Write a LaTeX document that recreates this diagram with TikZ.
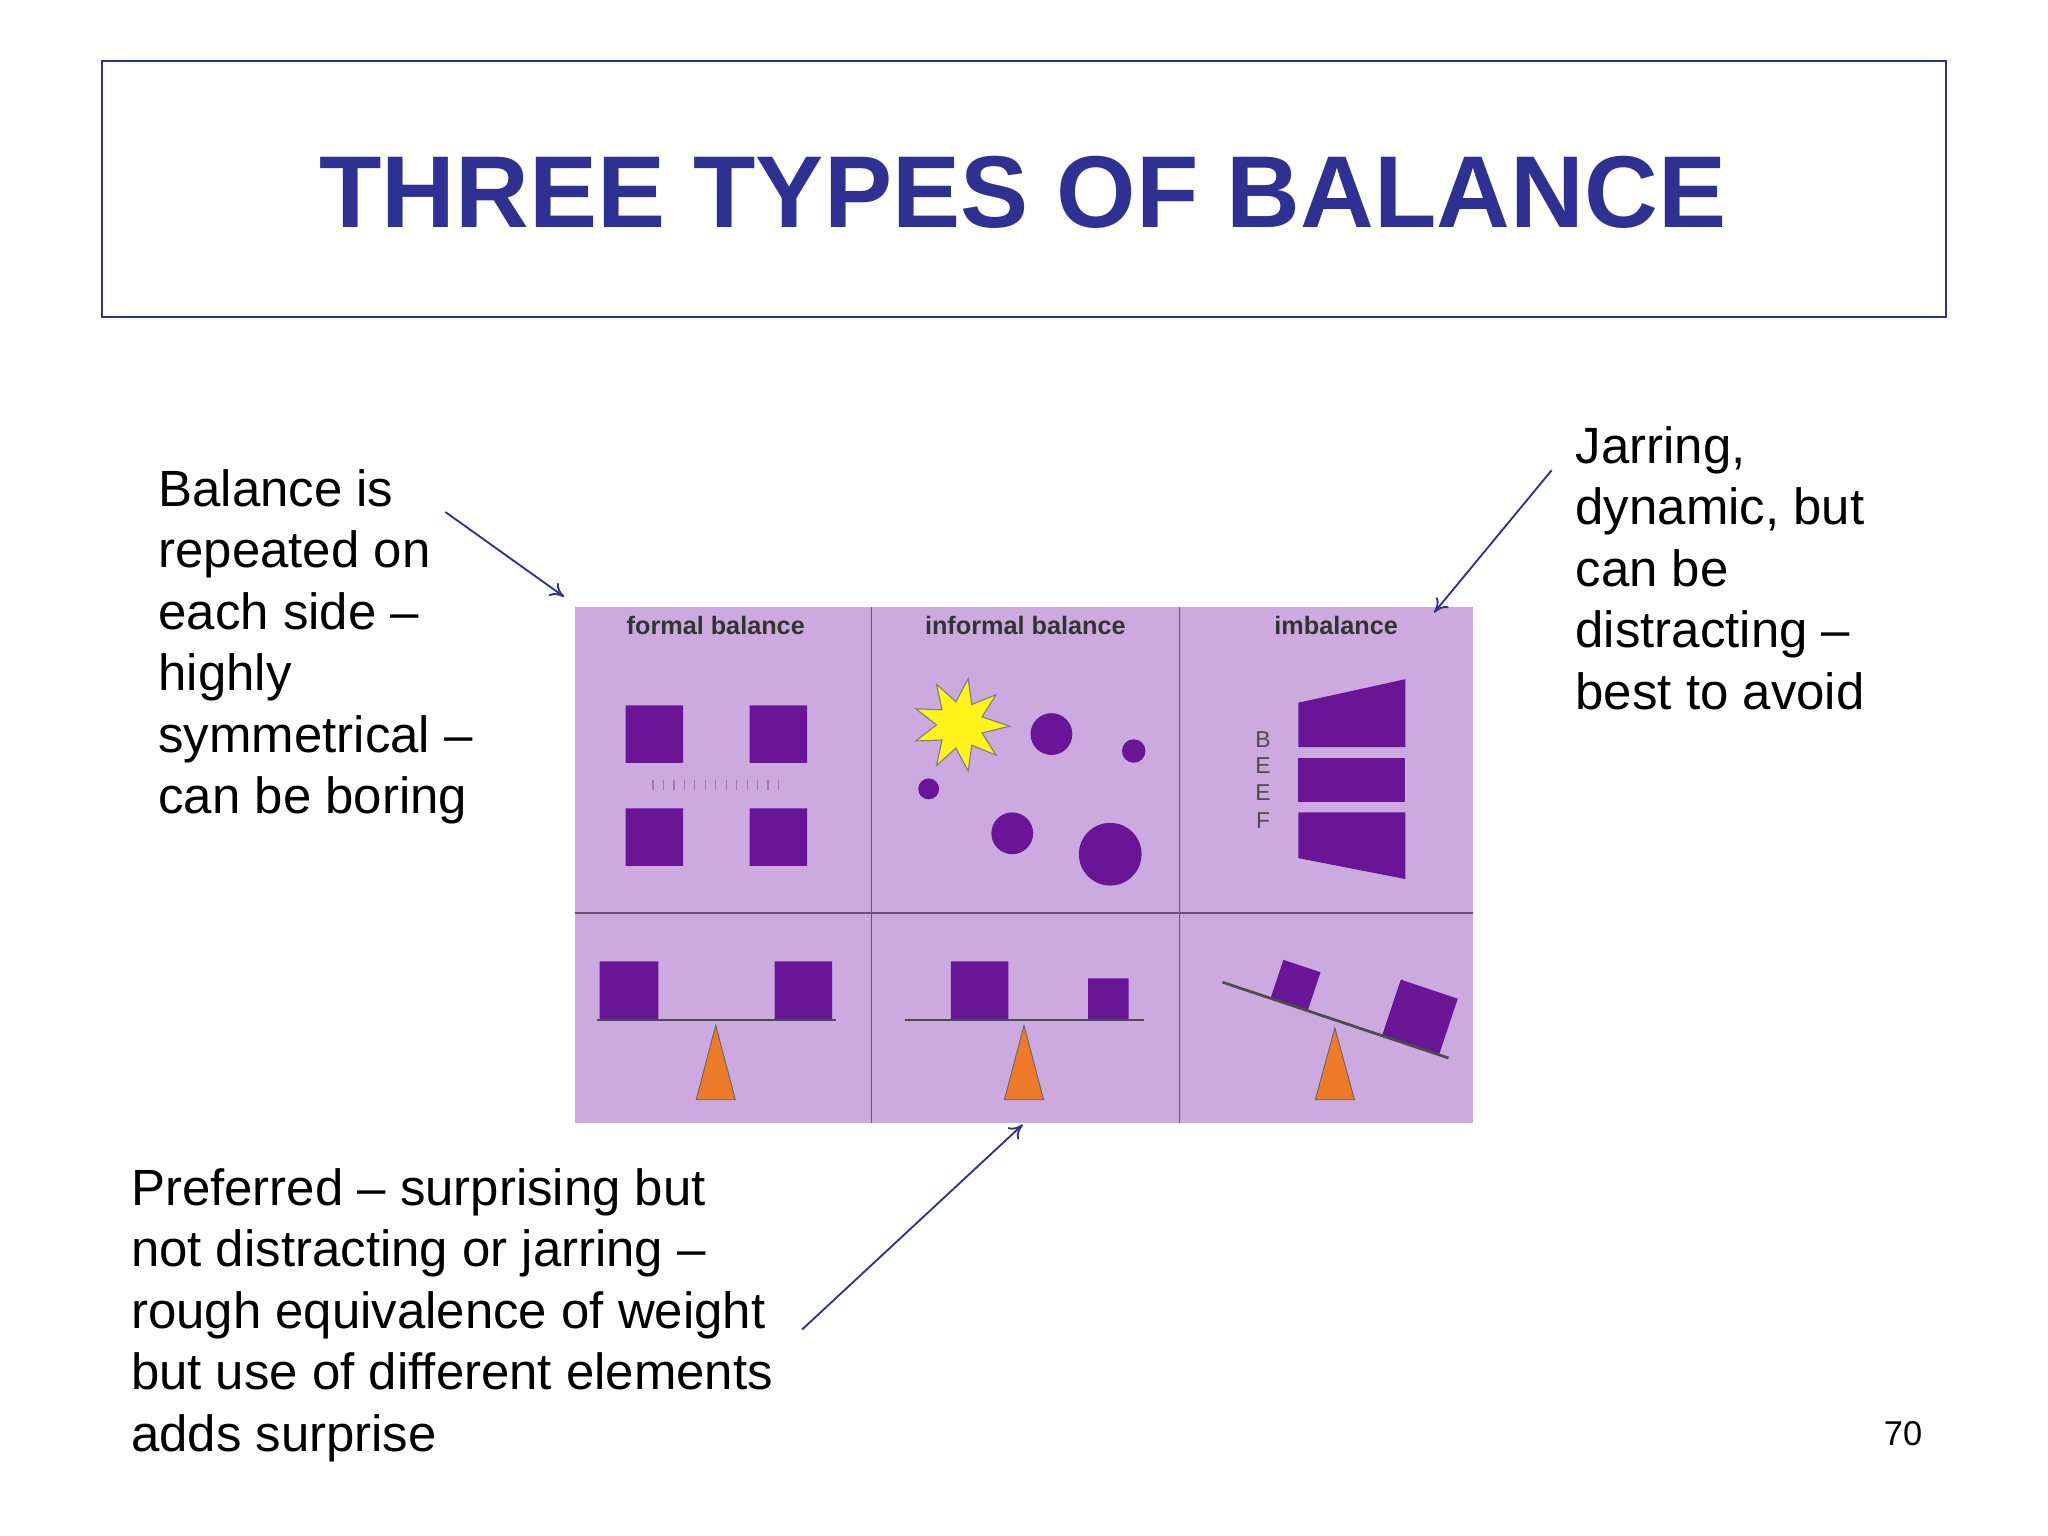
\documentclass[tikz,border=0pt]{standalone}
\usepackage{fontspec}
\usetikzlibrary{arrows.meta}
\setmainfont{Liberation Sans}
\definecolor{ttl}{RGB}{46,49,146}
\definecolor{lav}{RGB}{204,170,224}
\definecolor{pur}{RGB}{104,22,150}
\definecolor{org}{RGB}{236,122,40}
\definecolor{div}{RGB}{110,80,120}
\begin{document}
\begin{tikzpicture}[x=0.02cm,y=-0.02cm,
  body/.style={anchor=north west,inner sep=0,align=left,font=\fontsize{22.2}{26.8}\selectfont},
  plab/.style={inner sep=0,font=\fontsize{11}{12}\selectfont\bfseries,text=black!80},
  shp/.style={fill=pur},
  cone/.style={fill=org,draw=black!60,line width=0.4pt},
  beam/.style={draw=black!70,line width=1.2pt},
  arr/.style={draw=ttl,line width=0.8pt,-{To[length=6pt,width=7pt]}}]
\useasboundingbox (0,0) rectangle (1568,1176);
\fill[white] (0,0) rectangle (1568,1176);
% title
\node[draw=ttl,line width=0.8pt,minimum width=1412*0.02cm,minimum height=196*0.02cm,inner sep=0] (tbox) at (784,145) {};
\node[text=ttl,font=\fontsize{44.5}{50}\selectfont\bfseries] (title) at (783,147) {THREE TYPES OF BALANCE};
% panel
\node[fill=lav,minimum width=688*0.02cm,minimum height=395*0.02cm,inner sep=0] (panel) at (784,662.5) {};
\draw[div,line width=0.6pt] (667,465) -- (667,860) (903,465) -- (903,860);
\draw[div,line width=1pt] (440,699) -- (1128,699);
\node[plab] (l1) at (548,479) {formal balance};
\node[plab] (l2) at (785,479) {informal balance};
\node[plab] (l3) at (1023,479) {imbalance};
% formal top
\fill[shp] (479,540) rectangle (523,584) (574,540) rectangle (618,584)
           (479,619) rectangle (523,663) (574,619) rectangle (618,663);
\foreach \i in {0,...,12} \draw[pur!60,line width=0.5pt] (500+\i*8,597) -- (500+\i*8,605);
% informal top
\draw[fill=yellow!90!white,draw=black!50,line width=0.5pt]
  (773,556) \foreach \a [count=\k] in {20,40,...,340} {
    -- ({735+(mod(\k,2)==0 ? 36 : 18)*cos(\a)},{555-(mod(\k,2)==0 ? 36 : 18)*sin(\a)}) } -- cycle;
\fill[shp] (805,562) circle (16) (868,575) circle (9) (711,604) circle (8)
           (775,638) circle (16) (850,654) circle (24);
% imbalance top
\foreach \c/\yy in {B/566,E/586,E/607,F/628} \node[inner sep=0,font=\fontsize{10}{10}\selectfont,text=black!70] at (967,\yy) {\c};
\fill[shp] (994,538) -- (1076,520) -- (1076,572) -- (994,572) -- cycle;
\fill[shp] (994,580) rectangle (1076,614);
\fill[shp] (994,622) -- (1076,622) -- (1076,673) -- (994,657) -- cycle;
% formal bottom
\fill[shp] (459,736) rectangle (504,781) (593,736) rectangle (637,781);
\draw[beam] (457,781) -- (640,781);
\draw[cone] (548,785) -- (563,842) -- (533,842) -- cycle;
% informal bottom
\fill[shp] (728,736) rectangle (772,781) (833,749) rectangle (864,781);
\draw[beam] (693,781) -- (876,781);
\draw[cone] (784,785) -- (799,842) -- (769,842) -- cycle;
% imbalance bottom
\begin{scope}[shift={(987,769)},rotate=-18.5]
\fill[shp] (-15,-31) rectangle (15,0);
\end{scope}
\begin{scope}[shift={(1080,800)},rotate=-18.5]
\fill[shp] (-23,-45) rectangle (23,0);
\end{scope}
\draw[beam] (936,752) -- (1109,810);
\draw[cone] (1022,787) -- (1037,842) -- (1007,842) -- cycle;
% texts
\node[body] (tl) at (121,359) {Balance is\\repeated on\\each side –\\highly\\symmetrical –\\can be boring};
\node[body] (tr) at (1206,326) {Jarring,\\dynamic, but\\can be\\distracting –\\best to avoid};
\node[body] (tb) at (100,894) {Preferred – surprising but\\not distracting or jarring –\\rough equivalence of weight\\but use of different elements\\adds surprise};
\node[inner sep=0,font=\fontsize{15}{18}\selectfont] (pg) at (1457,1098) {70};
% arrows
\coordinate (a1) at (341,392); \coordinate (a1e) at (432,457);
\coordinate (a2) at (1188,360); \coordinate (a2e) at (1098,469);
\coordinate (a3) at (614,1018); \coordinate (a3e) at (783,861);
\draw[arr] (a1) -- (a1e);
\draw[arr] (a2) -- (a2e);
\draw[arr] (a3) -- (a3e);
\end{tikzpicture}
\end{document}
